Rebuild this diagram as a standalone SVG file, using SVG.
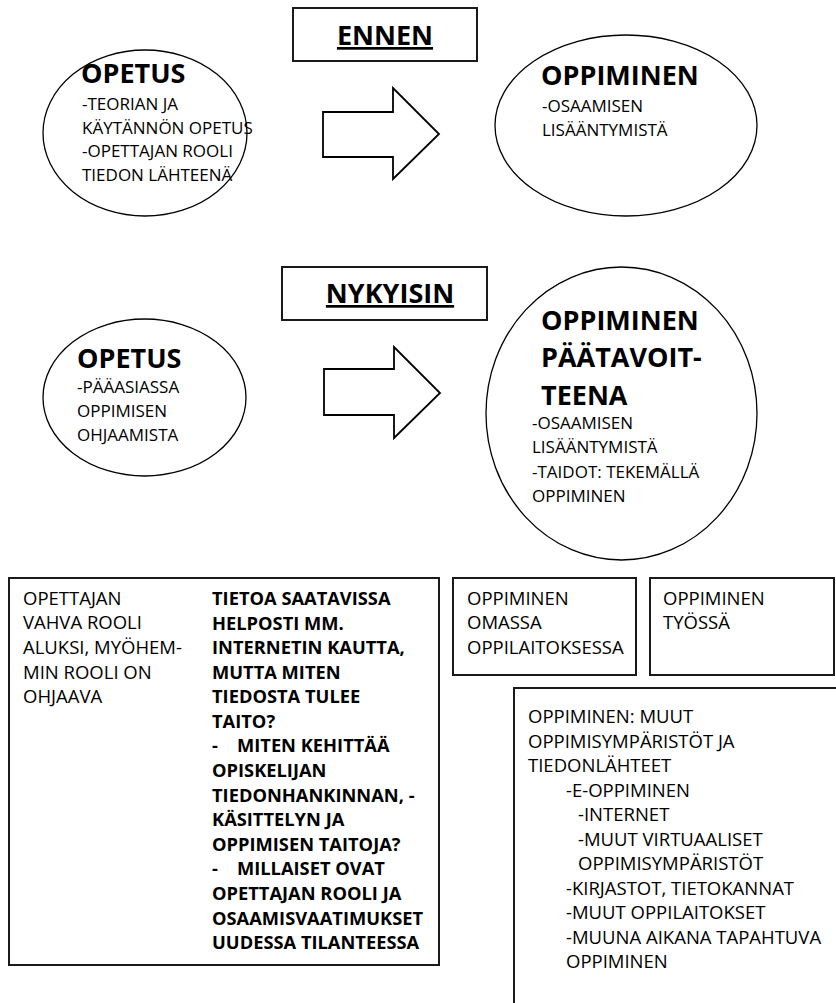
<svg xmlns="http://www.w3.org/2000/svg" width="836" height="1003" viewBox="0 0 836 1003">
<style>
  .box{fill:#fff;stroke:#1a1a1a;stroke-width:2}
  .ell{fill:#fff;stroke:#000;stroke-width:1.3}
  .arr{fill:#fff;stroke:#000;stroke-width:1.8;stroke-linejoin:miter}
  text{font-family:"Open Sans","Noto Sans","Liberation Sans",sans-serif;fill:#000}
  .hd{font-size:27px;font-weight:700;text-decoration:underline}
  .ti{font-size:27px;font-weight:700}
  .eb{font-size:17px}
  .bb{font-size:18.5px}
  .bd{font-size:18.3px;font-weight:700}
</style>
<rect width="836" height="1003" fill="#fff"/>

<g id="connectors">
  <polygon class="arr" points="323,112 393,112 393,88 439,134 393,179 393,157 323,157"/>
  <polygon class="arr" points="324,369 394,369 394,347 440,393 394,438 394,415 324,415"/>
</g>

<g id="ennen">
  <rect class="box" x="293" y="8" width="184" height="53"/>
  <text class="hd" x="385" y="45" text-anchor="middle">ENNEN</text>
</g>

<g id="opetus-ennen">
  <ellipse class="ell" cx="145" cy="133" rx="102" ry="83"/>
  <text class="ti" x="81" y="83">OPETUS</text>
  <text class="eb" x="82" y="110">-TEORIAN JA</text>
  <text class="eb" x="82" y="134">KÄYTÄNNÖN OPETUS</text>
  <text class="eb" x="82" y="157">-OPETTAJAN ROOLI</text>
  <text class="eb" x="82" y="181">TIEDON LÄHTEENÄ</text>
</g>

<g id="oppiminen-ennen">
  <ellipse class="ell" cx="626" cy="125.5" rx="131" ry="90.5"/>
  <text class="ti" x="541" y="85">OPPIMINEN</text>
  <text class="eb" x="542" y="112">-OSAAMISEN</text>
  <text class="eb" x="542" y="136">LISÄÄNTYMISTÄ</text>
</g>

<g id="nykyisin">
  <rect class="box" x="282" y="267" width="205" height="53"/>
  <text class="hd" x="390" y="303" text-anchor="middle">NYKYISIN</text>
</g>

<g id="opetus-nykyisin">
  <ellipse class="ell" cx="144.5" cy="397.5" rx="101.5" ry="78.5"/>
  <text class="ti" x="77" y="368">OPETUS</text>
  <text class="eb" x="77" y="393">-PÄÄASIASSA</text>
  <text class="eb" x="77" y="417">OPPIMISEN</text>
  <text class="eb" x="77" y="441">OHJAAMISTA</text>
</g>

<g id="oppiminen-nykyisin">
  <ellipse class="ell" cx="621.5" cy="413.5" rx="135.5" ry="146.5"/>
  <text class="ti" x="541" y="330">OPPIMINEN</text>
  <text class="ti" x="541" y="367">PÄÄTAVOIT-</text>
  <text class="ti" x="541" y="405">TEENA</text>
  <text class="eb" x="532" y="429">-OSAAMISEN</text>
  <text class="eb" x="532" y="453">LISÄÄNTYMISTÄ</text>
  <text class="eb" x="532" y="478">-TAIDOT: TEKEMÄLLÄ</text>
  <text class="eb" x="532" y="502">OPPIMINEN</text>
</g>

<g id="opettajan-rooli">
  <rect class="box" x="9" y="578" width="430" height="387"/>
  <text class="bb" x="23" y="605">OPETTAJAN</text>
  <text class="bb" x="23" y="629">VAHVA ROOLI</text>
  <text class="bb" x="23" y="654">ALUKSI, MYÖHEM-</text>
  <text class="bb" x="23" y="679">MIN ROOLI ON</text>
  <text class="bb" x="23" y="703">OHJAAVA</text>
  <text class="bd" x="212" y="605">TIETOA SAATAVISSA</text>
  <text class="bd" x="212" y="630">HELPOSTI MM.</text>
  <text class="bd" x="212" y="654">INTERNETIN KAUTTA,</text>
  <text class="bd" x="212" y="679">MUTTA MITEN</text>
  <text class="bd" x="212" y="703">TIEDOSTA TULEE</text>
  <text class="bd" x="212" y="728">TAITO?</text>
  <text class="bd" x="212" y="752">-<tspan x="237">MITEN KEHITTÄÄ</tspan></text>
  <text class="bd" x="212" y="777">OPISKELIJAN</text>
  <text class="bd" x="212" y="802">TIEDONHANKINNAN, -</text>
  <text class="bd" x="212" y="826">KÄSITTELYN JA</text>
  <text class="bd" x="212" y="851">OPPIMISEN TAITOJA?</text>
  <text class="bd" x="212" y="875">-<tspan x="237">MILLAISET OVAT</tspan></text>
  <text class="bd" x="212" y="900">OPETTAJAN ROOLI JA</text>
  <text class="bd" x="212" y="925">OSAAMISVAATIMUKSET</text>
  <text class="bd" x="212" y="949">UUDESSA TILANTEESSA</text>
</g>

<g id="oppilaitos">
  <rect class="box" x="453" y="578" width="183" height="97"/>
  <text class="bb" x="467" y="605">OPPIMINEN</text>
  <text class="bb" x="467" y="629">OMASSA</text>
  <text class="bb" x="467" y="654">OPPILAITOKSESSA</text>
</g>

<g id="tyossa">
  <rect class="box" x="650" y="578" width="184" height="97"/>
  <text class="bb" x="663" y="605">OPPIMINEN</text>
  <text class="bb" x="663" y="629">TYÖSSÄ</text>
</g>

<g id="muut-ymparistot">
  <rect class="box" x="514" y="688" width="340" height="340"/>
  <text class="bb" x="528" y="723">OPPIMINEN: MUUT</text>
  <text class="bb" x="528" y="748">OPPIMISYMPÄRISTÖT JA</text>
  <text class="bb" x="528" y="772">TIEDONLÄHTEET</text>
  <text class="bb" x="566" y="797">-E-OPPIMINEN</text>
  <text class="bb" x="578" y="821">-INTERNET</text>
  <text class="bb" x="578" y="846">-MUUT VIRTUAALISET</text>
  <text class="bb" x="578" y="870">OPPIMISYMPÄRISTÖT</text>
  <text class="bb" x="566" y="895">-KIRJASTOT, TIETOKANNAT</text>
  <text class="bb" x="566" y="919">-MUUT OPPILAITOKSET</text>
  <text class="bb" x="566" y="944">-MUUNA AIKANA TAPAHTUVA</text>
  <text class="bb" x="566" y="968">OPPIMINEN</text>
</g>
</svg>
